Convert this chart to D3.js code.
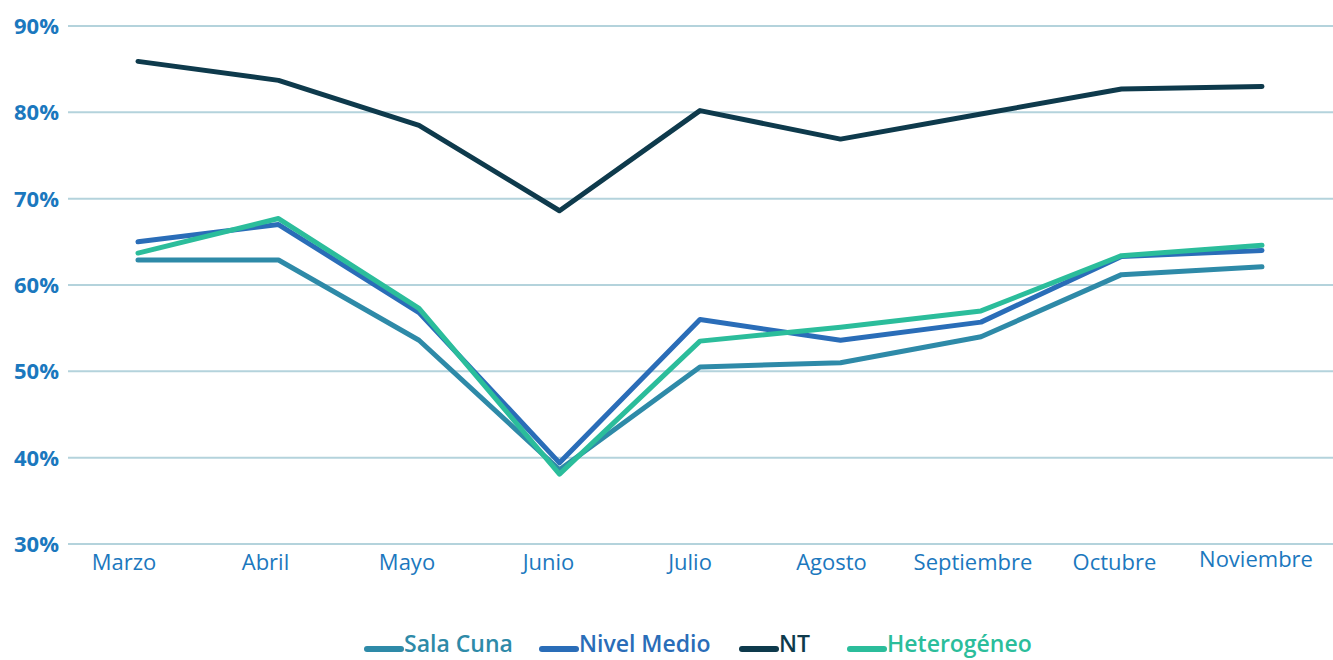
<!DOCTYPE html>
<html>
<head>
<meta charset="utf-8">
<script src="https://cdn.jsdelivr.net/npm/d3@7"></script>
<style>
  body { margin: 0; background: #fff; }
  text { font-family: "Open Sans", sans-serif; }
</style>
</head>
<body>
<div id="chart"></div>
<script>
var months = ['Marzo', 'Abril', 'Mayo', 'Junio', 'Julio', 'Agosto', 'Septiembre', 'Octubre', 'Noviembre'];
var yTicks = [30, 40, 50, 60, 70, 80, 90];

var salaCuna     = [62.9, 62.9, 53.6, 38.6, 50.5, 51.0, 54.0, 61.2, 62.1];
var nivelMedio   = [65.0, 67.0, 56.8, 39.4, 56.0, 53.6, 55.7, 63.3, 64.0];
var nt           = [85.9, 83.7, 78.5, 68.6, 80.2, 76.9, 79.8, 82.7, 83.0];
var heterogeneo  = [63.7, 67.7, 57.3, 38.1, 53.5, 55.1, 57.0, 63.4, 64.6];

var seriesNames = ['Sala Cuna', 'Nivel Medio', 'NT', 'Heterogéneo'];
var seriesColors = ['#2e8aa8', '#2a6db8', '#0e3a4c', '#2bbd9b'];

var width = 1333,
    height = 660;

var svg = d3.select('#chart')
  .append('svg')
  .attr('width', width)
  .attr('height', height);

var x = d3.scalePoint()
  .domain(months)
  .range([138, 1262]);

// category labels sit on a slightly shifted band
var xLabel = d3.scalePoint()
  .domain(months)
  .range([124, 1256]);

var y = d3.scaleLinear()
  .domain([30, 90])
  .range([544, 26]);

// gridlines
svg.append('g')
  .selectAll('line')
  .data(yTicks)
  .enter()
  .append('line')
  .attr('x1', 68)
  .attr('x2', 1333)
  .attr('y1', function(d) { return y(d); })
  .attr('y2', function(d) { return y(d); })
  .style('stroke', '#b4d3dc')
  .style('stroke-width', 2);

// y labels
svg.append('g')
  .selectAll('text')
  .data(yTicks)
  .enter()
  .append('text')
  .attr('x', 59)
  .attr('y', function(d) { return y(d) + 8; })
  .attr('text-anchor', 'end')
  .style('font-size', '22px')
  .style('font-weight', 'bold')
  .style('fill', '#1b78be')
  .text(function(d) { return d + '%'; });

// x labels
svg.append('g')
  .selectAll('text')
  .data(months)
  .enter()
  .append('text')
  .attr('x', function(d) { return xLabel(d); })
  .attr('y', function(d, i) { return i === months.length - 1 ? 567 : 570; })
  .attr('text-anchor', 'middle')
  .style('font-size', '22px')
  .style('fill', '#1b78be')
  .text(function(d) { return d; });

var line = d3.line()
  .x(function(d, i) { return x(months[i]); })
  .y(function(d) { return y(d); });

var allSeries = [salaCuna, nivelMedio, nt, heterogeneo];

// draw order: NT, Sala Cuna, Nivel Medio, Heterogeneo on top
[2, 0, 1, 3].forEach(function(k) {
  svg.append('path')
    .datum(allSeries[k])
    .attr('d', line)
    .style('fill', 'none')
    .style('stroke', seriesColors[k])
    .style('stroke-width', 5)
    .style('stroke-linejoin', 'round')
    .style('stroke-linecap', 'round');
});

// legend
var legendX = [367, 542, 742, 850];
var legend = svg.append('g')
  .selectAll('g')
  .data(seriesNames)
  .enter()
  .append('g')
  .attr('transform', function(d, i) { return 'translate(' + legendX[i] + ',649)'; });

legend.append('line')
  .attr('x1', 0)
  .attr('x2', 34)
  .style('stroke', function(d, i) { return seriesColors[i]; })
  .style('stroke-width', 6)
  .style('stroke-linecap', 'round');

legend.append('text')
  .attr('x', 37)
  .attr('y', 3)
  .style('font-size', '23px')
  .style('font-weight', '600')
  .style('fill', function(d, i) { return seriesColors[i]; })
  .text(function(d) { return d; });
</script>
</body>
</html>
